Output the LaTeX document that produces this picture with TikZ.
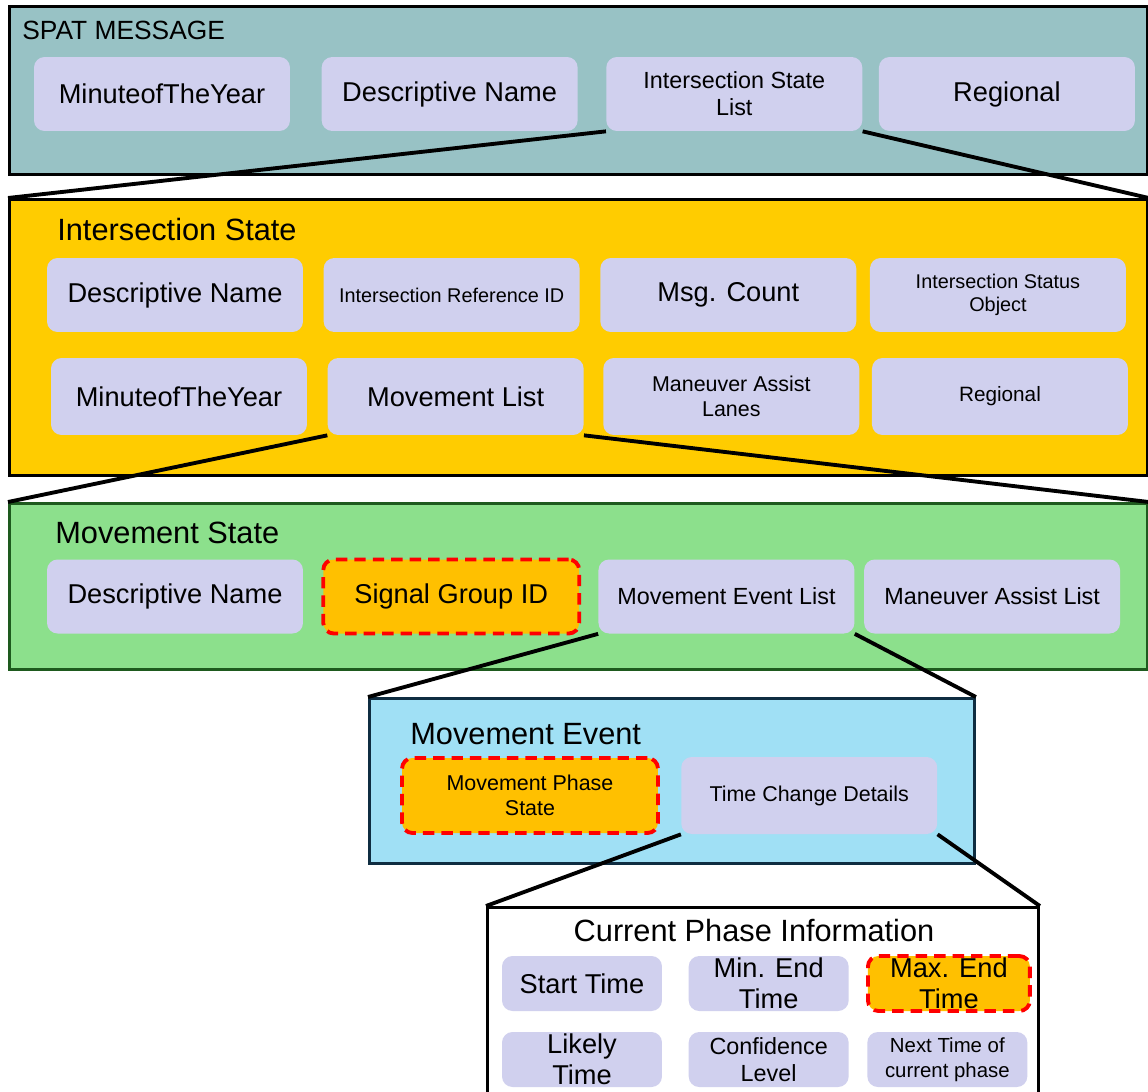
\documentclass[tikz,border=0pt]{standalone}
\usepackage{fontspec}
\setmainfont{Liberation Sans}
\usetikzlibrary{positioning}

\definecolor{spatcol}{RGB}{152,194,197}
\definecolor{iscol}{RGB}{255,204,0}
\definecolor{mscol}{RGB}{140,224,140}
\definecolor{msline}{RGB}{30,90,30}
\definecolor{mecol}{RGB}{160,224,245}
\definecolor{meline}{RGB}{15,45,65}
\definecolor{fieldcol}{RGB}{208,208,238}
\definecolor{keycol}{RGB}{255,192,0}

\newcommand{\txtbig}{\fontsize{15.5}{17.8}\selectfont}
\newcommand{\txtmid}{\fontsize{13.3}{15.3}\selectfont}
\newcommand{\txtsmall}{\fontsize{12.2}{14}\selectfont}
\newcommand{\txttiny}{\fontsize{11.3}{13}\selectfont}

\begin{document}
\begin{tikzpicture}[x=0.02cm,y=-0.02cm,
    panel/.style={draw, line width=1.7pt, anchor=north west, inner sep=0pt},
    title/.style={anchor=west, inner sep=0pt, font=\fontsize{17.5}{20}\selectfont},
    field/.style={fill=fieldcol, rounded corners=6pt, align=center, inner sep=1pt,
                  minimum width=5.12cm, minimum height=1.48cm, font=\txtbig},
    keyfield/.style={field, fill=keycol, draw=red, line width=2.2pt,
                     dash pattern=on 6.5pt off 4pt},
    cpfield/.style={minimum width=3.2cm, minimum height=1.1cm, inner sep=0pt},
    zoomline/.style={line width=2.2pt}]

    \path[use as bounding box] (0,0) rectangle (1148,1091);
    \clip (0,0) rectangle (1148,1091);

    % SPAT message
    \node[panel, fill=spatcol, minimum width=22.76cm, minimum height=3.36cm] (spat) at (8,5) {};
    \node[title, font=\fontsize{15}{18}\selectfont] (spattitle) at (22,30) {SPAT MESSAGE};
    \node[field]                        (mty1) at (162,94) {MinuteofTheYear};
    \node[field, right=0.62cm of mty1]  (desc1) {Descriptive Name};
    \node[field, right=0.56cm of desc1, font=\txtmid] (isl) {Intersection State\\List};
    \node[field, right=0.32cm of isl]   (reg1) {Regional};

    % intersection state
    \node[panel, fill=iscol, minimum width=22.76cm, minimum height=5.52cm] (is) at (8,198) {};
    \node[title] (istitle) at (57,230) {Intersection State};
    \node[field]                        (desc2) at (175,295) {Descriptive Name};
    \node[field, right=0.4cm of desc2, font=\txttiny] (ref) {Intersection Reference ID};
    \node[field, right=0.4cm of ref]    (msg) {Msg. Count};
    \node[field, right=0.26cm of msg, font=\txttiny] (status) {Intersection Status\\Object};
    \node[field, minimum height=1.54cm] (mty2) at (179,396.5) {MinuteofTheYear};
    \node[field, minimum height=1.54cm, right=0.4cm of mty2] (mvl) {Movement List};
    \node[field, minimum height=1.54cm, right=0.38cm of mvl, font=\txtsmall] (mal) {Maneuver Assist\\Lanes};
    \node[field, minimum height=1.54cm, right=0.24cm of mal, font=\fontsize{11.8}{14}\selectfont] (reg2) {Regional};

    % movement state
    \node[panel, draw=msline, fill=mscol, minimum width=22.76cm, minimum height=3.32cm] (ms) at (8,502) {};
    \node[title] (mstitle) at (55,533) {Movement State};
    \node[field]                        (desc3) at (175,596.5) {Descriptive Name};
    \node[keyfield, right=0.36cm of desc3] (sgid) {Signal Group ID};
    \node[field, right=0.34cm of sgid, font=\txtmid] (mel) {Movement Event List};
    \node[field, right=0.18cm of mel, font=\txtmid]  (mas) {Maneuver Assist List};

    % movement event
    \node[panel, draw=meline, fill=mecol, minimum width=12.1cm, minimum height=3.3cm] (me) at (368,697) {};
    \node[title] (metitle) at (410,734) {Movement Event};
    \node[keyfield, minimum height=1.5cm, font=\txtsmall] (mps) at (530,795.5) {Movement Phase\\State};
    \node[field, minimum height=1.54cm, right=0.42cm of mps, font=\txtsmall] (tcd) {Time Change Details};

    % current phase information
    \node[panel, fill=white, minimum width=11.02cm, minimum height=3.9cm] (cp) at (486,906) {};
    \node[title, anchor=center] (cptitle) at (754,930) {Current Phase Information};
    \node[field, cpfield]                       (start) at (582,983.5) {Start Time};
    \node[field, cpfield, right=0.52cm of start] (minend) {Min. End\\Time};
    \node[keyfield, cpfield, minimum width=3.24cm, right=0.34cm of minend] (maxend) {Max. End\\Time};
    \node[field, cpfield]                       (likely) at (582,1059.5) {Likely\\Time};
    \node[field, cpfield, right=0.52cm of likely, font=\txtmid] (conf) {Confidence\\Level};
    \node[field, cpfield, right=0.36cm of conf, font=\fontsize{11.6}{14}\selectfont] (next) {Next Time of\\current phase};

    % zoom lines between levels
    \draw[zoomline] (isl.south west) -- (is.north west);
    \draw[zoomline] (isl.south east) -- (is.north east);
    \draw[zoomline] (mvl.south west) -- (ms.north west);
    \draw[zoomline] (mvl.south east) -- (ms.north east);
    \draw[zoomline] (mel.south west) -- (me.north west);
    \draw[zoomline] (mel.south east) -- (me.north east);
    \draw[zoomline] (tcd.south west) -- (cp.north west);
    \draw[zoomline] (tcd.south east) -- (cp.north east);
\end{tikzpicture}
\end{document}
